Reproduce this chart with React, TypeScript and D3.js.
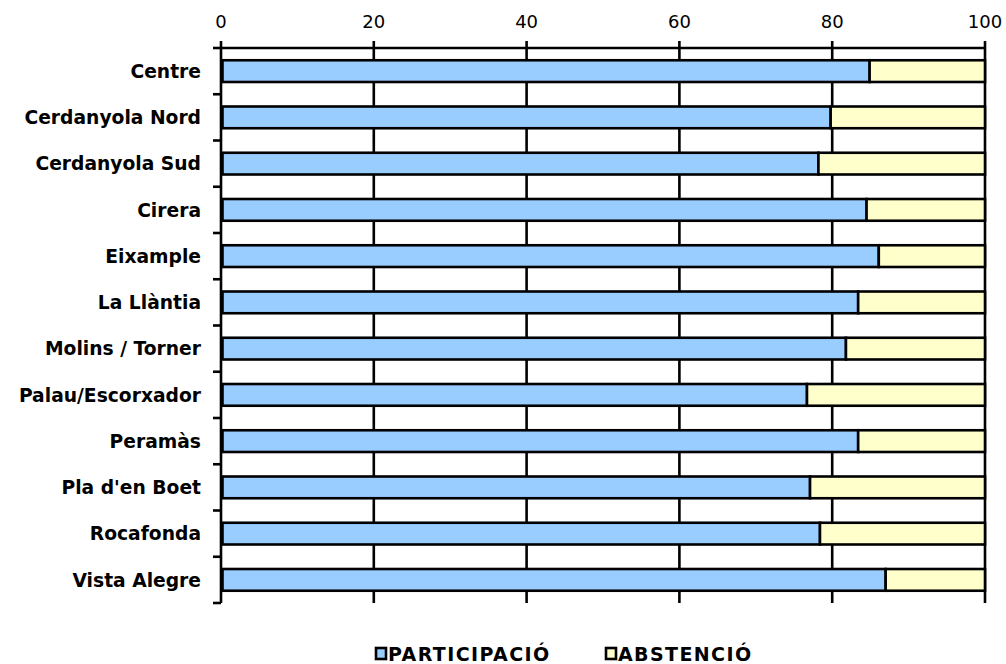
import * as d3 from 'd3'

const categories = [
  'Centre',
  'Cerdanyola Nord',
  'Cerdanyola Sud',
  'Cirera',
  'Eixample',
  'La Llàntia',
  'Molins / Torner',
  'Palau/Escorxador',
  'Peramàs',
  "Pla d'en Boet",
  'Rocafonda',
  'Vista Alegre',
]
const participacio = [84.9, 79.8, 78.2, 84.5, 86.1, 83.4, 81.8, 76.7, 83.4, 77.1, 78.4, 87.0]
const abstencio = participacio.map((p) => 100 - p)
const xTicks = [0, 20, 40, 60, 80, 100]
const seriesNames = ['PARTICIPACIÓ', 'ABSTENCIÓ']
const seriesColors = ['#99CCFF', '#FFFFCC']

export default function App() {
  const width = 1006
  const height = 664
  const margin = { top: 48, right: 21, bottom: 61, left: 221 }
  const innerW = width - margin.left - margin.right
  const innerH = height - margin.top - margin.bottom

  const x = d3.scaleLinear().domain([0, 100]).range([0, innerW])
  const y = d3.scaleBand<string>().domain(categories).range([0, innerH])
  const barH = y.bandwidth() * 0.47
  const barOff = (y.bandwidth() - barH) / 2

  const rows = categories.map((c, i) => ({ c, p: participacio[i], a: abstencio[i] }))
  const boundaries = d3.range(categories.length + 1).map((i) => i * y.step())

  const font = 'Verdana, "DejaVu Sans", sans-serif'
  const sw = 2.6

  return (
    <svg
      width={width}
      height={height}
      style={{ position: 'absolute', left: 0, top: 0, background: '#fff' }}
      fontFamily={font}
    >
      <g transform={`translate(${margin.left},${margin.top})`}>
        {/* top axis + vertical grid */}
        <g fontSize={18} textAnchor="middle">
          <line x1={0} x2={innerW} y1={0} y2={0} stroke="#000" strokeWidth={sw} />
          {xTicks.map((t) => (
            <g key={t} transform={`translate(${x(t)},0)`}>
              <line y1={-7} y2={innerH} stroke="#000" strokeWidth={sw} />
              <text y={-20} fill="#000">
                {t}
              </text>
            </g>
          ))}
        </g>
        {/* left axis ticks */}
        <g>
          {boundaries.map((b) => (
            <line key={b} x1={-8} x2={0} y1={b} y2={b} stroke="#000" strokeWidth={sw} />
          ))}
        </g>
        {/* bars */}
        {rows.map((r) => (
          <g key={r.c} transform={`translate(0,${y(r.c)! + barOff})`}>
            <rect
              x={x(0) + 1.5}
              width={x(r.p) - x(0) - 1.5}
              height={barH}
              fill={seriesColors[0]}
              stroke="#000"
              strokeWidth={sw}
            />
            <rect
              x={x(r.p)}
              width={x(r.p + r.a) - x(r.p)}
              height={barH}
              fill={seriesColors[1]}
              stroke="#000"
              strokeWidth={sw}
            />
          </g>
        ))}
        {/* category labels */}
        <g fontSize={18.7} fontWeight="bold" textAnchor="end">
          {rows.map((r) => (
            <text key={r.c} x={-20} y={y(r.c)! + y.bandwidth() / 2} dy="0.36em" fill="#000">
              {r.c}
            </text>
          ))}
        </g>
      </g>
      {/* legend */}
      <g fontSize={19} fontWeight="bold" fontFamily={font} letterSpacing={1.4}>
        {seriesNames.map((s, i) => (
          <g key={s} transform={`translate(${[376, 606][i]},648)`}>
            <rect width={10} height={11} fill={seriesColors[i]} stroke="#000" strokeWidth={sw} />
            <text x={12} y={12.5} fill="#000">
              {s}
            </text>
          </g>
        ))}
      </g>
    </svg>
  )
}
